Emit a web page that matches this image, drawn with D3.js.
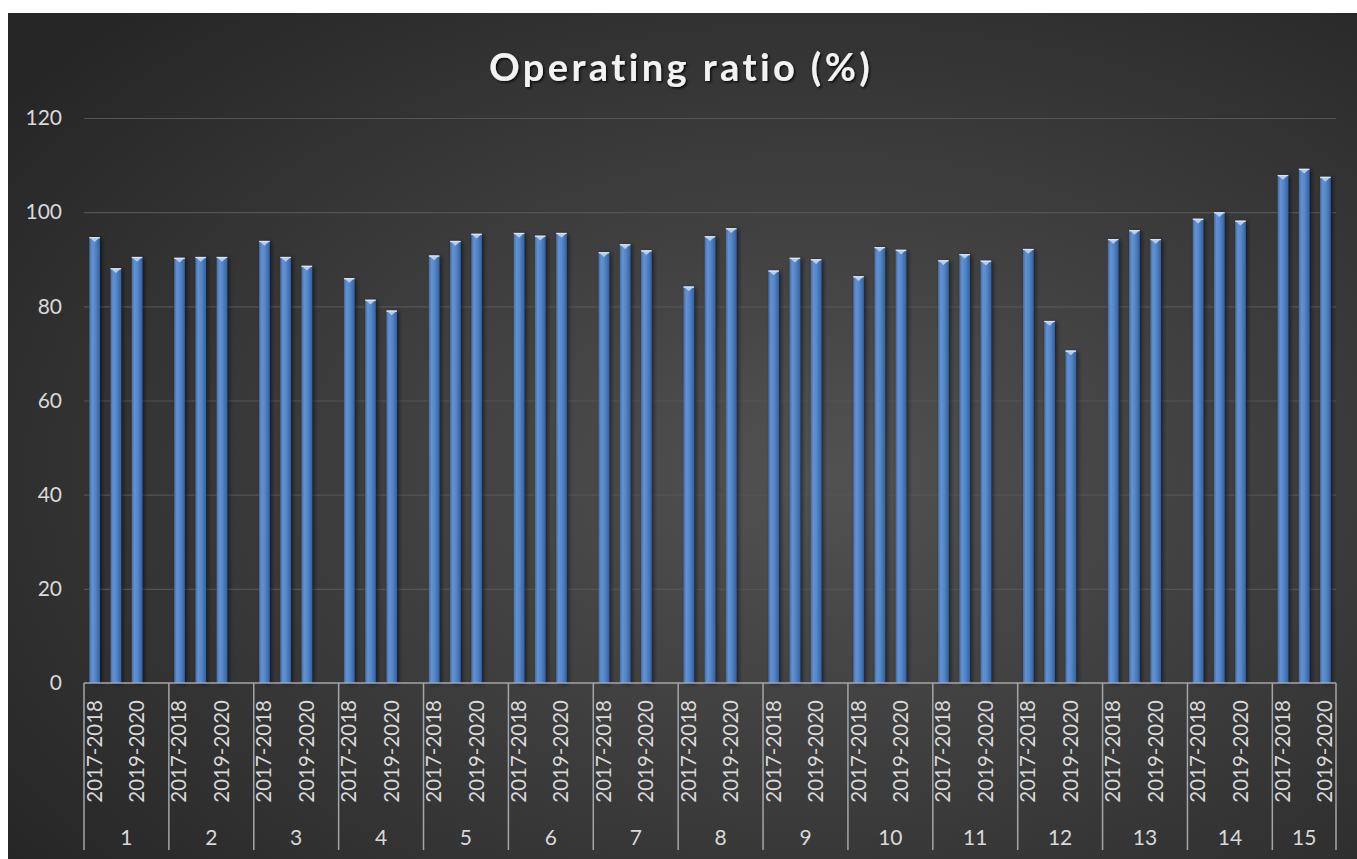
<!DOCTYPE html>
<html lang="en">
<head>
    <meta charset="UTF-8">
    <title>Operating ratio (%)</title>
    <script src="https://d3js.org/d3.v7.min.js"></script>
    <style>
        html, body {
            margin: 0;
            background: #ffffff;
        }
        svg text {
            font-family: Lato, "Open Sans", sans-serif;
        }
    </style>
</head>
<body>
    <div id="chart"></div>
    <script>
        // values
        var groups = ["1", "2", "3", "4", "5", "6", "7", "8", "9", "10", "11", "12", "13", "14", "15"];
        var years = ["2017-2018", "2018-2019", "2019-2020"];
        var ratio2017 = [94.7, 90.3, 93.9, 86.0, 90.8, 95.6, 91.5, 84.2, 87.6, 86.4, 89.8, 92.2, 94.3, 98.6, 107.9];
        var ratio2018 = [88.1, 90.5, 90.5, 81.4, 93.9, 95.0, 93.2, 94.9, 90.3, 92.6, 91.1, 76.9, 96.2, 100.0, 109.2];
        var ratio2019 = [90.5, 90.5, 88.6, 79.1, 95.4, 95.6, 91.9, 96.6, 90.0, 92.0, 89.7, 70.6, 94.3, 98.2, 107.5];
        var yTicks = [0, 20, 40, 60, 80, 100, 120];
        var title = "Operating ratio (%)";

        var width = 1357, height = 859;
        var margin = { top: 118, bottom: 176, left: 84, right: 21 };

        var svg = d3.select('#chart').append('svg')
            .attr('width', width)
            .attr('height', height);

        var defs = svg.append('defs');

        var bg = defs.append('radialGradient')
            .attr('id', 'bg')
            .attr('cx', '60%').attr('cy', '55%').attr('r', '75%');
        bg.append('stop').attr('offset', '0%').attr('stop-color', '#525252');
        bg.append('stop').attr('offset', '100%').attr('stop-color', '#262626');

        var barGrad = defs.append('linearGradient')
            .attr('id', 'barGrad')
            .attr('x1', '0%').attr('x2', '100%').attr('y1', '0%').attr('y2', '0%');
        barGrad.append('stop').attr('offset', '0%').attr('stop-color', '#3f6cab');
        barGrad.append('stop').attr('offset', '25%').attr('stop-color', '#6092d4');
        barGrad.append('stop').attr('offset', '55%').attr('stop-color', '#5687c9');
        barGrad.append('stop').attr('offset', '100%').attr('stop-color', '#37619c');

        var shadow = defs.append('filter')
            .attr('id', 'shadow')
            .attr('x', '-50%').attr('y', '-10%').attr('width', '200%').attr('height', '120%');
        shadow.append('feDropShadow')
            .attr('dx', 2).attr('dy', 1).attr('stdDeviation', 2)
            .attr('flood-color', '#000').attr('flood-opacity', 0.55);

        var titleShadow = defs.append('filter').attr('id', 'titleShadow');
        titleShadow.append('feDropShadow')
            .attr('dx', 1.5).attr('dy', 1.5).attr('stdDeviation', 1.2)
            .attr('flood-color', '#000').attr('flood-opacity', 0.8);

        svg.append('rect')
            .attr('x', 8).attr('y', 13)
            .attr('width', width - 8).attr('height', height - 13)
            .attr('fill', 'url(#bg)');

        svg.append('text')
            .attr('x', 681).attr('y', 81)
            .attr('text-anchor', 'middle')
            .attr('fill', '#f2f2f2')
            .attr('font-size', 38)
            .attr('font-weight', 'bold')
            .attr('letter-spacing', 3.4)
            .attr('filter', 'url(#titleShadow)')
            .text(title);

        var series = [ratio2017, ratio2018, ratio2019];
        var rows = [];
        var slots = [];
        groups.forEach(function (g, gi) {
            years.forEach(function (yr, yi) {
                slots.push(g + '|' + yr);
                rows.push({ group: g, year: yr, key: g + '|' + yr, value: series[yi][gi] });
            });
            if (gi < groups.length - 1) slots.push(g + '|gap');
        });

        var plotW = width - margin.left - margin.right;
        var plotH = height - margin.top - margin.bottom;

        var x = d3.scaleBand()
            .domain(slots)
            .range([margin.left, margin.left + plotW]);

        var y = d3.scaleLinear()
            .domain([0, 120])
            .range([margin.top + plotH, margin.top]);

        // gridlines + y labels
        var yAxis = d3.axisLeft(y)
            .tickValues(yTicks)
            .tickSize(-plotW)
            .tickPadding(22);

        var gy = svg.append('g')
            .attr('transform', 'translate(' + margin.left + ',0)')
            .call(yAxis);
        gy.select('.domain').remove();
        gy.selectAll('.tick line')
            .attr('stroke', '#545454')
            .attr('stroke-width', 1.2)
            .filter(function (d) { return d === 0; }).remove();
        gy.selectAll('.tick text')
            .attr('fill', '#d9d9d9')
            .attr('font-size', 21)
            .style('font-family', 'Lato, sans-serif');

        // bars
        var bw = x.bandwidth() * 0.5;
        var cap = bw * 0.45;
        var bars = svg.append('g').selectAll('g.bar')
            .data(rows)
            .enter().append('g')
            .attr('class', 'bar');

        bars.append('rect')
            .attr('x', function (d) { return x(d.key) + (x.bandwidth() - bw) / 2; })
            .attr('y', function (d) { return y(d.value); })
            .attr('width', bw)
            .attr('height', function (d) { return y(0) - y(d.value); })
            .attr('fill', 'url(#barGrad)')
            .attr('filter', 'url(#shadow)');

        bars.append('path')
            .attr('d', function (d) {
                var x0 = x(d.key) + (x.bandwidth() - bw) / 2;
                var y0 = y(d.value);
                return 'M' + x0 + ',' + y0 + 'L' + (x0 + bw) + ',' + y0 +
                    'L' + (x0 + bw / 2) + ',' + (y0 + cap) + 'Z';
            })
            .attr('fill', '#b4cdee');

        bars.append('rect')
            .attr('x', function (d) { return x(d.key) + (x.bandwidth() - bw) / 2; })
            .attr('y', function (d) { return y(d.value); })
            .attr('width', bw)
            .attr('height', 1.2)
            .attr('fill', '#d5e3f6');

        // category axis
        var axisY = y(0);
        svg.append('line')
            .attr('x1', margin.left).attr('x2', margin.left + plotW)
            .attr('y1', axisY).attr('y2', axisY)
            .attr('stroke', '#a6a6a6')
            .attr('stroke-width', 1.5);

        var seps = groups.map(function (g) { return x(g + '|' + years[0]); });
        seps.push(margin.left + plotW);
        svg.append('g').selectAll('line')
            .data(seps)
            .enter().append('line')
            .attr('x1', function (d) { return d; })
            .attr('x2', function (d) { return d; })
            .attr('y1', axisY)
            .attr('y2', 850)
            .attr('stroke', '#a6a6a6')
            .attr('stroke-width', 1.5);

        // year labels: every other slot is labelled, as in the original
        var yearLabels = slots.filter(function (s, i) {
            return i % 2 === 0 && s.indexOf('|gap') < 0;
        });
        svg.append('g').selectAll('text')
            .data(yearLabels)
            .enter().append('text')
            .attr('transform', function (d) {
                return 'translate(' + (x(d) + x.bandwidth() / 2 + 7) + ',' + (axisY + 17) + ') rotate(-90)';
            })
            .attr('text-anchor', 'end')
            .attr('fill', '#d9d9d9')
            .attr('font-size', 20.5)
            .text(function (d) { return d.split('|')[1]; });

        svg.append('g').selectAll('text')
            .data(groups)
            .enter().append('text')
            .attr('x', function (g, i) { return (seps[i] + seps[i + 1]) / 2; })
            .attr('y', 845)
            .attr('text-anchor', 'middle')
            .attr('fill', '#d9d9d9')
            .attr('font-size', 21)
            .text(function (g) { return g; });
    </script>
</body>
</html>
